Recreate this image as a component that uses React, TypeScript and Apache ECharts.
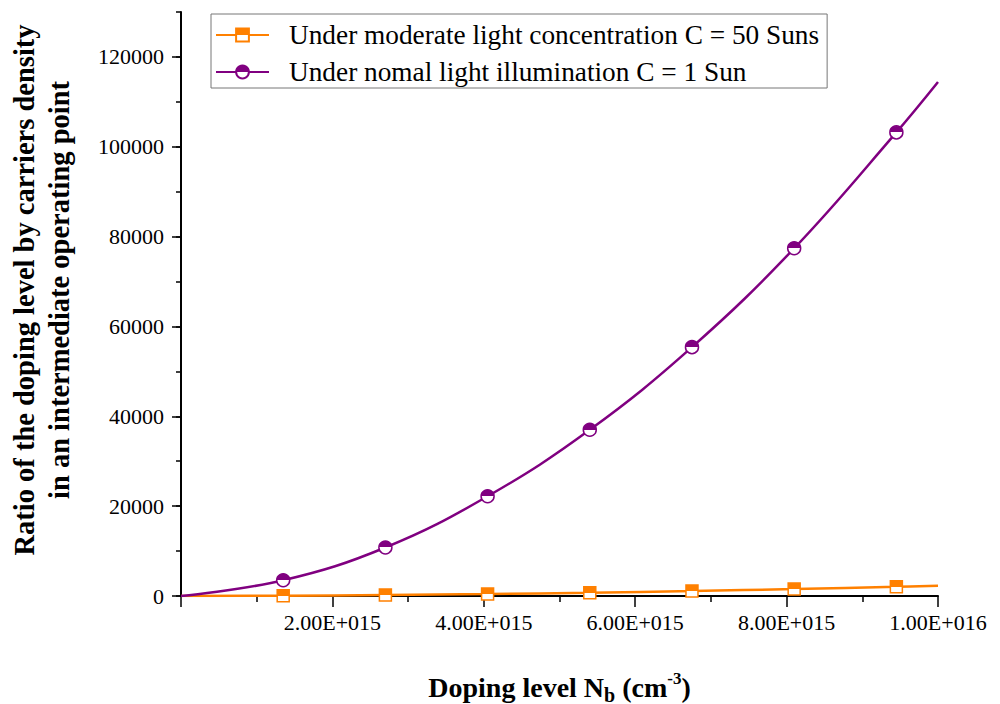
import React, { useEffect, useRef } from "react";
import * as echarts from "echarts";

const dopingLevels = [0, 1.35e15, 2.7e15, 4.05e15, 5.4e15, 6.75e15, 8.1e15, 9.45e15, 1e16];
const ratioOneSun = [0, 3500, 10800, 22200, 37000, 55400, 77400, 103200, 114400];
const ratioFiftySuns = [0, 70, 220, 440, 740, 1110, 1550, 2060, 2290];
const seriesNames = [
  "Under moderate light concentration C = 50 Suns",
  "Under nomal light illumination C = 1 Sun",
];
const yMajorTicks = [0, 20000, 40000, 60000, 80000, 100000, 120000];

const FONT = "Liberation Serif";
const ORANGE = "#FF8000";
const PURPLE = "#800080";

function halfFill(c: string) {
  return new echarts.graphic.LinearGradient(0, 0, 0, 1, [
    { offset: 0, color: c },
    { offset: 0.5, color: c },
    { offset: 0.5, color: "#ffffff" },
    { offset: 1, color: "#ffffff" },
  ]);
}

function buildData(values: number[]) {
  return dopingLevels.map((x, i) => {
    const item: any = { value: [x, values[i]] };
    if (i === 0 || i === dopingLevels.length - 1) item.symbol = "none";
    return item;
  });
}

function fmtSci(v: number) {
  if (v === 0) return "";
  const [m, e] = v.toExponential(2).split("e");
  const sign = e[0];
  const num = e.slice(1).padStart(3, "0");
  return m + "E" + sign + num;
}

export default function App() {
  const ref = useRef<HTMLDivElement>(null);
  useEffect(() => {
    if (!ref.current) return;
    const chart = echarts.init(ref.current, undefined, { renderer: "svg" });
    chart.setOption({
      animation: false,
      backgroundColor: "#ffffff",
      textStyle: { fontFamily: FONT },
      grid: { left: 181, right: 62, top: 12, bottom: 108, containLabel: false, outerBoundsMode: "none" },
      legend: {
        orient: "vertical",
        left: 211,
        top: 14,
        padding: [7, 8, 2, 4],
        itemWidth: 53,
        itemHeight: 16,
        itemGap: 9,
        borderColor: "#777777",
        borderWidth: 1,
        data: seriesNames,
        textStyle: {
          fontFamily: FONT,
          fontSize: 27.3,
          color: "#000000",
          lineHeight: 28,
          padding: [0, 0, 0, 15],
        },
      },
      xAxis: {
        type: "value",
        min: 0,
        max: 1e16,
        interval: 2e15,
        name: "{a|Doping level N}{s|b}{a| (cm}{p|-3}{a|)}",
        nameLocation: "middle",
        nameGap: 74,
        nameTextStyle: {
          rich: {
            a: { fontFamily: FONT, fontSize: 28, fontWeight: "bold", color: "#000" },
            s: { fontFamily: FONT, fontSize: 20, fontWeight: "bold", color: "#000", padding: [14, 0, 0, 0] },
            p: { fontFamily: FONT, fontSize: 17, fontWeight: "bold", color: "#000", padding: [0, 0, 18, 0] },
          },
        },
        axisLine: { show: true, onZero: false, lineStyle: { color: "#000", width: 2 } },
        axisTick: { show: true, length: 11, lineStyle: { color: "#000", width: 1.5 } },
        minorTick: { show: true, splitNumber: 2, length: 6, lineStyle: { color: "#000", width: 1.5 } },
        axisLabel: {
          formatter: fmtSci,
          fontFamily: FONT,
          fontSize: 22,
          color: "#000",
          margin: 15,
        },
        splitLine: { show: false },
      },
      yAxis: [
        {
          type: "value",
          position: "left",
          min: 0,
          max: 130000,
          interval: 10000,
          name: "Ratio of the doping level by carriers density\nin an intermediate operating point",
          nameLocation: "middle",
          nameRotate: 90,
          nameGap: 104,
          nameTextStyle: {
            fontFamily: FONT,
            fontSize: 28.5,
            fontWeight: "bold",
            color: "#000",
            lineHeight: 35,
            padding: [0, 0, 0, 28],
          },
          axisLine: { show: true, onZero: false, lineStyle: { color: "#000", width: 2 } },
          axisTick: { show: true, length: 9, customValues: yMajorTicks, lineStyle: { color: "#000", width: 1.5 } },
          axisLabel: {
            customValues: yMajorTicks,
            formatter: (v: number) => (v % 20000 === 0 ? String(v) : ""),
            fontFamily: FONT,
            fontSize: 22,
            color: "#000",
            margin: 17,
          },
          splitLine: { show: false },
        },
        {
          type: "value",
          position: "left",
          min: 0,
          max: 130000,
          interval: 10000,
          axisLine: { show: false },
          axisTick: { show: true, length: 5, lineStyle: { color: "#000", width: 1.5 } },
          axisLabel: { show: false },
          splitLine: { show: false },
        },
      ],
      series: [
        {
          name: seriesNames[0],
          type: "line",
          smooth: 0.4,
          symbol: "rect",
          symbolSize: 12,
          data: buildData(ratioFiftySuns),
          lineStyle: { color: ORANGE, width: 2.5 },
          itemStyle: { color: halfFill(ORANGE), borderColor: ORANGE, borderWidth: 1.5 },
          z: 3,
        },
        {
          name: seriesNames[1],
          type: "line",
          smooth: 0.4,
          symbol: "circle",
          symbolSize: 13,
          data: buildData(ratioOneSun),
          lineStyle: { color: PURPLE, width: 2.5 },
          itemStyle: { color: halfFill(PURPLE), borderColor: PURPLE, borderWidth: 1.5 },
          z: 4,
        },
      ],
    });
    return () => chart.dispose();
  }, []);
  return (
    <div
      ref={ref}
      style={{ position: "fixed", left: 0, top: 0, width: 1000, height: 704, background: "#fff" }}
    />
  );
}
